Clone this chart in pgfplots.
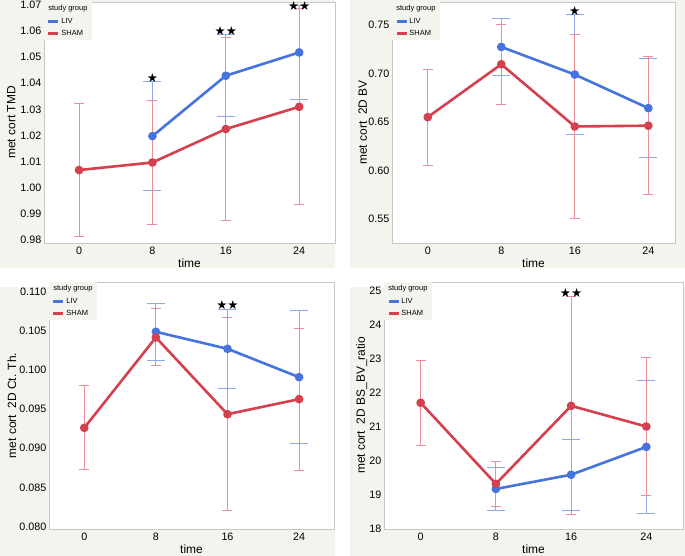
\documentclass[border=0pt]{standalone}
\usepackage{fontspec}
\setmainfont{Liberation Sans}
\newfontfamily\symfont{DejaVu Sans}
\usepackage{pgfplots}
\pgfplotsset{compat=1.18}
\definecolor{bgc}{HTML}{F4F4EE}
\definecolor{livc}{HTML}{4674DF}
\definecolor{shamc}{HTML}{D5404F}
\definecolor{livbar}{HTML}{8FA9EE}
\definecolor{shambar}{HTML}{EC8E99}
\newcommand{\stars}[1]{{\symfont\fontsize{12.5}{12.5}\selectfont #1}}
\pgfplotsset{
  panel/.style={
    scale only axis, clip=false,
    axis background/.style={fill=white},
    axis line style={draw=black!22, line width=0.6bp},
    major tick length=0pt, minor tick length=0pt,
    xtick={0,8,16,24},
    /pgf/number format/assume math mode=true,
    xlabel=time,
    tick label style={font=\fontsize{10.8}{12}\selectfont},
    yticklabel style={inner xsep=2.5bp},
    label style={font=\fontsize{12}{13}\selectfont},
    ylabel style={anchor=center},
    xlabel style={anchor=center},
    legend style={at={(0,1)}, anchor=north west, fill=bgc, draw=none,
      font=\fontsize{7.5}{8}\selectfont, inner xsep=3bp, inner ysep=1.5bp,
      row sep=2.5bp, nodes={inner sep=1.6bp}},
    legend cell align=left,
    legend image code/.code={\draw[line width=2.6bp] (0bp,0bp) -- (10bp,0bp);},
  },
  livline/.style={color=livc, line width=2.6bp, mark=*, mark size=3bp, line join=round},
  shamline/.style={color=shamc, line width=2.6bp, mark=*, mark size=3bp, line join=round},
  liverr/.style={only marks, mark=none, forget plot,
    error bars/.cd, y dir=both, y explicit,
    error bar style={color=livbar, line width=1bp},
    error mark options={rotate=90, color=livbar, mark size=9bp, line width=1bp}},
  shamerr/.style={only marks, mark=none, forget plot,
    error bars/.cd, y dir=both, y explicit,
    error bar style={color=shambar, line width=1bp},
    error mark options={rotate=90, color=shambar, mark size=5bp, line width=1bp}},
}
\begin{document}
\begin{tikzpicture}
\path[use as bounding box] (0,0) rectangle (685bp,556bp);
\fill[bgc] (0bp,288bp) rectangle (335bp,556bp);
\fill[bgc] (350bp,288bp) rectangle (685bp,556bp);
\fill[bgc] (0bp,0bp) rectangle (335bp,269bp);
\fill[bgc] (350bp,0bp) rectangle (685bp,269bp);

% Panel 1: TMD
\begin{axis}[panel, at={(44bp,313bp)}, anchor=south west,
  width=291bp, height=241bp,
  xmin=-3.82, xmax=27.9, ymin=0.9789, ymax=1.0711,
  ytick={0.98,0.99,1.00,1.01,1.02,1.03,1.04,1.05,1.06,1.07},
  yticklabel style={/pgf/number format/.cd, fixed, fixed zerofill, precision=2},
  ylabel={met cort TMD},
  ylabel style={at={(axis description cs:-0.112,0.5)}},
  xlabel style={at={(axis description cs:0.5,-0.083)}}]
\addlegendimage{empty legend}
\addlegendentry{\hspace*{-13bp}study group}
\addplot[liverr] coordinates {(8,1.0198) +- (0,0.0209) (16,1.0429) +- (0,0.0156) (24,1.0518) +- (0,0.0179)};
\addplot[shamerr] coordinates {(0,1.0068) +- (0,0.0256) (8,1.0097) +- (0,0.0236) (16,1.0225) +- (0,0.0350) (24,1.0310) +- (0,0.0375)};
\addplot[livline] coordinates {(8,1.0198) (16,1.0429) (24,1.0518)};
\addlegendentry{LIV}
\addplot[shamline] coordinates {(0,1.0068) (8,1.0097) (16,1.0225) (24,1.0310)};
\addlegendentry{SHAM}
\node at (axis cs:8,1.0421) {\stars{★}};
\node at (axis cs:16,1.0598) {\stars{★★}};
\node at (axis cs:24,1.0696) {\stars{★★}};
\end{axis}

% Panel 2: BV
\begin{axis}[panel, at={(392bp,313bp)}, anchor=south west,
  width=283bp, height=241bp,
  xmin=-3.89, xmax=26.9, ymin=0.5253, ymax=0.7737,
  ytick={0.55,0.60,0.65,0.70,0.75},
  yticklabel style={/pgf/number format/.cd, fixed, fixed zerofill, precision=2},
  ylabel={met cort\ \ 2D BV},
  ylabel style={at={(axis description cs:-0.1035,0.5)}},
  xlabel style={at={(axis description cs:0.5,-0.083)}}]
\addlegendimage{empty legend}
\addlegendentry{\hspace*{-13bp}study group}
\addplot[liverr] coordinates {(8,0.7274) +- (0,0.0294) (16,0.6989) +- (0,0.0621) (24,0.6643) +- (0,0.0508)};
\addplot[shamerr] coordinates {(0,0.6550) +- (0,0.0496) (8,0.7095) +- (0,0.0412) (16,0.6454) +- (0,0.0945) (24,0.6462) +- (0,0.0712)};
\addplot[livline] coordinates {(8,0.7274) (16,0.6989) (24,0.6643)};
\addlegendentry{LIV}
\addplot[shamline] coordinates {(0,0.6550) (8,0.7095) (16,0.6454) (24,0.6462)};
\addlegendentry{SHAM}
\node at (axis cs:16,0.7644) {\stars{★}};
\end{axis}

% Panel 3: Ct.Th.
\begin{axis}[panel, at={(49bp,27bp)}, anchor=south west,
  width=285bp, height=247bp,
  xmin=-3.94, xmax=27.9, ymin=0.0797, ymax=0.1112,
  ytick={0.080,0.085,0.090,0.095,0.100,0.105,0.110},
  yticklabel style={/pgf/number format/.cd, fixed, fixed zerofill, precision=3},
  ylabel={met cort\ \ 2D Ct. Th.},
  ylabel style={at={(axis description cs:-0.130,0.5)}},
  xlabel style={at={(axis description cs:0.5,-0.081)}}]
\addlegendimage{empty legend}
\addlegendentry{\hspace*{-13bp}study group}
\addplot[liverr] coordinates {(8,0.10485) +- (0,0.00362) (16,0.10268) +- (0,0.00504) (24,0.09906) +- (0,0.00847)};
\addplot[shamerr] coordinates {(0,0.09260) +- (0,0.00536) (8,0.10413) +- (0,0.00364) (16,0.09434) +- (0,0.01228) (24,0.09626) +- (0,0.00907)};
\addplot[livline] coordinates {(8,0.10485) (16,0.10268) (24,0.09906)};
\addlegendentry{LIV}
\addplot[shamline] coordinates {(0,0.09260) (8,0.10413) (16,0.09434) (24,0.09626)};
\addlegendentry{SHAM}
\node at (axis cs:16,0.10821) {\stars{★★}};
\end{axis}

% Panel 4: BS/BV
\begin{axis}[panel, at={(384bp,27bp)}, anchor=south west,
  width=299bp, height=247bp,
  xmin=-3.9, xmax=27.9, ymin=17.98, ymax=25.26,
  ytick={18,19,20,21,22,23,24,25},
  ylabel={met cort\ \ 2D BS\_BV\_ratio},
  ylabel style={at={(axis description cs:-0.0746,0.5)}},
  xlabel style={at={(axis description cs:0.5,-0.081)}}]
\addlegendimage{empty legend}
\addlegendentry{\hspace*{-13bp}study group}
\addplot[liverr] coordinates {(8,19.16) +- (0,0.643) (16,19.58) +- (0,1.04) (24,20.40) +- (0,1.97)};
\addplot[shamerr] coordinates {(0,21.70) +- (0,1.25) (8,19.31) +- (0,0.67) (16,21.61) +- (0,3.21) (24,21.00) +- (0,2.02)};
\addplot[livline] coordinates {(8,19.16) (16,19.58) (24,20.40)};
\addlegendentry{LIV}
\addplot[shamline] coordinates {(0,21.70) (8,19.31) (16,21.61) (24,21.00)};
\addlegendentry{SHAM}
\node at (axis cs:16,24.94) {\stars{★★}};
\end{axis}
\end{tikzpicture}
\end{document}
